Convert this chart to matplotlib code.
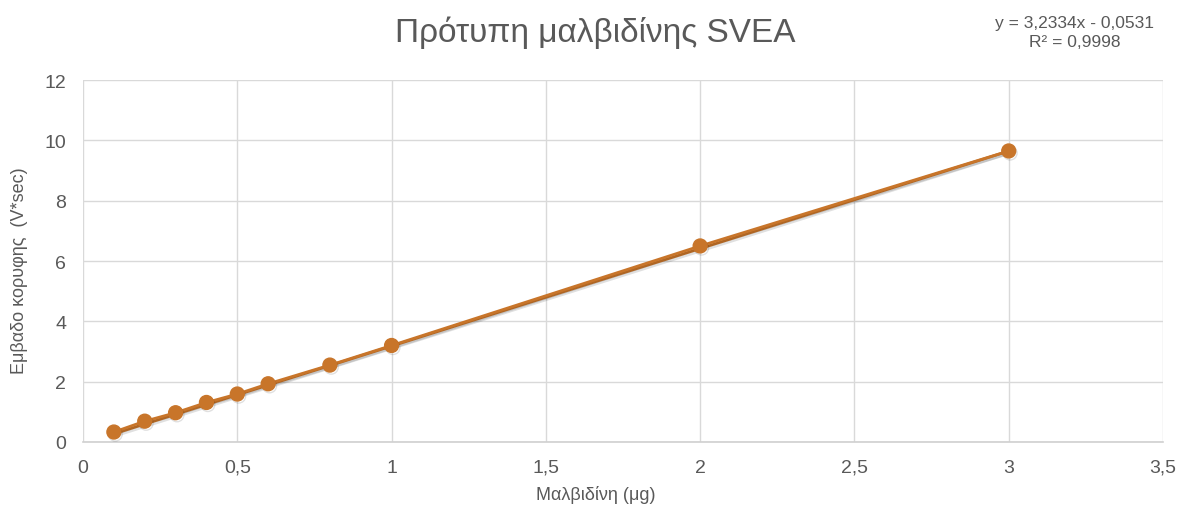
import matplotlib
matplotlib.use("Agg")
import matplotlib.pyplot as plt
import matplotlib.patheffects as pe
import numpy as np
from matplotlib import font_manager

# Data
malvidin_ug = [0.1, 0.2, 0.3, 0.4, 0.5, 0.6, 0.8, 1.0, 2.0, 3.0]
peak_area = [0.33, 0.69, 0.97, 1.31, 1.59, 1.93, 2.55, 3.20, 6.50, 9.65]
trend_slope = 3.2334
trend_intercept = -0.0531
x_ticks = [0, 0.5, 1, 1.5, 2, 2.5, 3, 3.5]
x_tick_labels = ["0", "0,5", "1", "1,5", "2", "2,5", "3", "3,5"]
y_ticks = [0, 2, 4, 6, 8, 10, 12]
title = "Πρότυπη μαλβιδίνης SVEA"
xlabel = "Μαλβιδίνη (μg)"
ylabel = "Εμβαδο κορυφης  (V*sec)"
eq_text = "y = 3,2334x - 0,0531\nR² = 0,9998"

fam = ["Liberation Sans", "DejaVu Sans"]
plt.rcParams['font.family'] = fam

grey = "#595959"
orange = "#C8752A"

fig = plt.figure(figsize=(11.98, 5.10), dpi=100)
ax = fig.add_axes([0.0693, 0.1314, 0.9015, 0.7096])

ax.set_xlim(0, 3.5)
ax.set_ylim(0, 12)
ax.set_xticks(x_ticks)
ax.set_xticklabels(x_tick_labels)
ax.set_yticks(y_ticks)
ax.grid(True, color="#d9d9d9", linewidth=1.0)
ax.set_axisbelow(True)
for s in ["top", "right", "left"]:
    ax.spines[s].set_visible(False)
ax.spines["bottom"].set_color("#d0d0d0")
ax.spines["bottom"].set_linewidth(1.2)
ax.tick_params(length=0, labelsize=14, colors=grey, pad=12)

shadow = [pe.SimpleLineShadow(offset=(1.0, -1.5), shadow_color="black", alpha=0.12), pe.Normal()]

xs = np.array(malvidin_ug)
ax.plot(xs, trend_slope * xs + trend_intercept, color=orange, linewidth=2.0, zorder=3,
        path_effects=shadow)
ax.plot(malvidin_ug, peak_area, color=orange, linewidth=2.0, marker="o", markersize=10,
        markeredgecolor=orange, zorder=4, path_effects=shadow)

fig.text(0.497, 0.935, title, ha="center", va="center", fontsize=24, color=grey)
fig.text(0.897, 0.935, eq_text, ha="center", va="center", fontsize=12.5, color=grey,
         linespacing=1.35)
fig.text(0.497, 0.03, xlabel, ha="center", va="center", fontsize=13, color=grey)
fig.text(0.016, 0.47, ylabel, ha="center", va="center", rotation=90, fontsize=13, color=grey)

fig.savefig("out.png", dpi=100)
